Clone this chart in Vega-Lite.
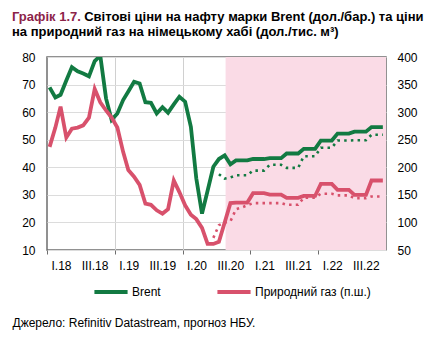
{
  "$schema": "https://vega.github.io/schema/vega-lite/v6.json",
  "width": 339,
  "height": 193,
  "autosize": {"type": "none"},
  "padding": {"left": 47, "top": 57, "right": 53, "bottom": 95},
  "background": "white",
  "config": {
    "font": "Liberation Sans",
    "view": {"stroke": "#6e6e6e", "strokeWidth": 1.5},
    "axis": {"labelFont": "Liberation Sans", "labelFontSize": 12, "labelColor": "#000", "titleFont": "Liberation Sans", "labelOverlap": false, "labelBound": false, "tickCount": 30},
    "legend": {"labelFont": "Liberation Sans"}
  },
  "title": {
    "text": "Графік 1.7.",
    "subtitle": ["\u200b\u00a0\u00a0\u00a0\u00a0\u00a0\u00a0\u00a0\u00a0\u00a0\u00a0\u00a0\u00a0\u00a0\u00a0\u00a0\u00a0\u00a0\u00a0\u00a0\u00a0Світові ціни на нафту марки Brent (дол./бар.) та ціни", "на природний газ на німецькому хабі (дол./тис. м³)"],
    "anchor": "start",
    "frame": "group",
    "dx": -35,
    "offset": 12,
    "font": "Liberation Sans",
    "fontSize": 13,
    "fontWeight": "bold",
    "color": "#8C2349",
    "subtitleFont": "Liberation Sans",
    "subtitleFontSize": 13,
    "subtitleFontWeight": "bold",
    "subtitleColor": "#000",
    "subtitlePadding": -13,
    "subtitleLineHeight": 15.5
  },
  "data": {
    "values": [
      {"d": "2018-01-15", "brent": 69.0, "brent_f": null, "gas": 237, "gas_f": null},
      {"d": "2018-02-15", "brent": 65.3, "brent_f": null, "gas": 272, "gas_f": null},
      {"d": "2018-03-15", "brent": 66.3, "brent_f": null, "gas": 310, "gas_f": null},
      {"d": "2018-04-15", "brent": 71.5, "brent_f": null, "gas": 254, "gas_f": null},
      {"d": "2018-05-15", "brent": 76.3, "brent_f": null, "gas": 270, "gas_f": null},
      {"d": "2018-06-15", "brent": 74.8, "brent_f": null, "gas": 272, "gas_f": null},
      {"d": "2018-07-15", "brent": 74.0, "brent_f": null, "gas": 276, "gas_f": null},
      {"d": "2018-08-15", "brent": 73.0, "brent_f": null, "gas": 290, "gas_f": null},
      {"d": "2018-09-15", "brent": 78.5, "brent_f": null, "gas": 342, "gas_f": null},
      {"d": "2018-10-15", "brent": 80.5, "brent_f": null, "gas": 318, "gas_f": null},
      {"d": "2018-11-15", "brent": 65.0, "brent_f": null, "gas": 303, "gas_f": null},
      {"d": "2018-12-15", "brent": 57.2, "brent_f": null, "gas": 290, "gas_f": null},
      {"d": "2019-01-15", "brent": 59.5, "brent_f": null, "gas": 272, "gas_f": null},
      {"d": "2019-02-15", "brent": 64.4, "brent_f": null, "gas": 228, "gas_f": null},
      {"d": "2019-03-15", "brent": 67.5, "brent_f": null, "gas": 195, "gas_f": null},
      {"d": "2019-04-15", "brent": 71.0, "brent_f": null, "gas": 183, "gas_f": null},
      {"d": "2019-05-15", "brent": 70.4, "brent_f": null, "gas": 168, "gas_f": null},
      {"d": "2019-06-15", "brent": 63.6, "brent_f": null, "gas": 134, "gas_f": null},
      {"d": "2019-07-15", "brent": 63.4, "brent_f": null, "gas": 132, "gas_f": null},
      {"d": "2019-08-15", "brent": 59.5, "brent_f": null, "gas": 122, "gas_f": null},
      {"d": "2019-09-15", "brent": 61.8, "brent_f": null, "gas": 116, "gas_f": null},
      {"d": "2019-10-15", "brent": 59.8, "brent_f": null, "gas": 124, "gas_f": null},
      {"d": "2019-11-15", "brent": 62.8, "brent_f": null, "gas": 176, "gas_f": null},
      {"d": "2019-12-15", "brent": 65.6, "brent_f": null, "gas": 155, "gas_f": null},
      {"d": "2020-01-15", "brent": 63.8, "brent_f": null, "gas": 131, "gas_f": null},
      {"d": "2020-02-15", "brent": 54.7, "brent_f": null, "gas": 114, "gas_f": null},
      {"d": "2020-03-15", "brent": 36.0, "brent_f": null, "gas": 106, "gas_f": null},
      {"d": "2020-04-15", "brent": 23.2, "brent_f": null, "gas": 90, "gas_f": null},
      {"d": "2020-05-15", "brent": 31.5, "brent_f": null, "gas": 61, "gas_f": null},
      {"d": "2020-06-15", "brent": 40.2, "brent_f": null, "gas": 61, "gas_f": 72},
      {"d": "2020-07-15", "brent": 43.0, "brent_f": 37.5, "gas": 65, "gas_f": 95},
      {"d": "2020-08-15", "brent": 44.3, "brent_f": 35.9, "gas": 100, "gas_f": 100},
      {"d": "2020-09-15", "brent": 41.1, "brent_f": 36.3, "gas": 135, "gas_f": 102},
      {"d": "2020-10-15", "brent": 42.5, "brent_f": 37.1, "gas": 136, "gas_f": 124},
      {"d": "2020-11-15", "brent": 42.5, "brent_f": 37.1, "gas": 136, "gas_f": 127},
      {"d": "2020-12-15", "brent": 42.5, "brent_f": 37.1, "gas": 136, "gas_f": 131},
      {"d": "2021-01-15", "brent": 43.0, "brent_f": 38.8, "gas": 153, "gas_f": 135},
      {"d": "2021-02-15", "brent": 43.0, "brent_f": 38.8, "gas": 153, "gas_f": 135},
      {"d": "2021-03-15", "brent": 43.0, "brent_f": 38.8, "gas": 153, "gas_f": 135},
      {"d": "2021-04-15", "brent": 43.3, "brent_f": 40.9, "gas": 150.5, "gas_f": 135},
      {"d": "2021-05-15", "brent": 43.3, "brent_f": 40.9, "gas": 150.5, "gas_f": 135},
      {"d": "2021-06-15", "brent": 43.3, "brent_f": 40.9, "gas": 150.5, "gas_f": 135},
      {"d": "2021-07-15", "brent": 45.0, "brent_f": 39.8, "gas": 144.5, "gas_f": 132},
      {"d": "2021-08-15", "brent": 45.0, "brent_f": 39.8, "gas": 144.5, "gas_f": 132},
      {"d": "2021-09-15", "brent": 45.0, "brent_f": 39.8, "gas": 144.5, "gas_f": 132},
      {"d": "2021-10-15", "brent": 46.7, "brent_f": 44.0, "gas": 148, "gas_f": 145},
      {"d": "2021-11-15", "brent": 46.7, "brent_f": 44.0, "gas": 148, "gas_f": 145},
      {"d": "2021-12-15", "brent": 46.7, "brent_f": 44.0, "gas": 148, "gas_f": 145},
      {"d": "2022-01-15", "brent": 49.7, "brent_f": 47.1, "gas": 170, "gas_f": 152},
      {"d": "2022-02-15", "brent": 49.7, "brent_f": 47.1, "gas": 170, "gas_f": 152},
      {"d": "2022-03-15", "brent": 49.7, "brent_f": 47.1, "gas": 170, "gas_f": 152},
      {"d": "2022-04-15", "brent": 52.2, "brent_f": 49.7, "gas": 159, "gas_f": 149},
      {"d": "2022-05-15", "brent": 52.2, "brent_f": 49.7, "gas": 159, "gas_f": 149},
      {"d": "2022-06-15", "brent": 52.2, "brent_f": 49.7, "gas": 159, "gas_f": 149},
      {"d": "2022-07-15", "brent": 52.9, "brent_f": 49.8, "gas": 150, "gas_f": 144},
      {"d": "2022-08-15", "brent": 52.9, "brent_f": 49.8, "gas": 150, "gas_f": 144},
      {"d": "2022-09-15", "brent": 52.9, "brent_f": 49.8, "gas": 150, "gas_f": 144},
      {"d": "2022-10-15", "brent": 54.6, "brent_f": 51.8, "gas": 176, "gas_f": 147},
      {"d": "2022-11-15", "brent": 54.6, "brent_f": 51.8, "gas": 176, "gas_f": 147},
      {"d": "2022-12-15", "brent": 54.6, "brent_f": 51.8, "gas": 176, "gas_f": 147}
    ]
  },
  "layer": [
    {
      "data": {"values": [{"start": "2020-08-20", "end": "2023-01-01"}]},
      "mark": {"type": "rect", "color": "#FADBE6"},
      "encoding": {
        "x": {
          "field": "start",
          "type": "temporal",
          "scale": {"type": "utc", "domain": [{"year": 2018, "month": 1, "date": 1, "utc": true}, {"year": 2023, "month": 1, "date": 1, "utc": true}]},
          "axis": {
            "values": [
              {"year": 2018, "month": 1, "date": 1, "utc": true}, {"year": 2018, "month": 7, "date": 1, "utc": true},
              {"year": 2019, "month": 1, "date": 1, "utc": true}, {"year": 2019, "month": 7, "date": 1, "utc": true},
              {"year": 2020, "month": 1, "date": 1, "utc": true}, {"year": 2020, "month": 7, "date": 1, "utc": true},
              {"year": 2021, "month": 1, "date": 1, "utc": true}, {"year": 2021, "month": 7, "date": 1, "utc": true},
              {"year": 2022, "month": 1, "date": 1, "utc": true}, {"year": 2022, "month": 7, "date": 1, "utc": true}
            ],
            "tickCount": 30,
            "labelExpr": "(utcmonth(datum.value) == 0 ? 'I.' : 'III.') + (utcyear(datum.value) % 100)",
            "labelOffset": 14,
            "labelPadding": 6,
            "labelFlush": false,
            "labelOverlap": false,
            "domain": false,
            "tickSize": 4,
            "tickColor": {"condition": {"test": "utcmonth(datum.value) == 0", "value": "#6e6e6e"}, "value": "transparent"},
            "grid": true,
            "gridColor": {"condition": {"test": "utcmonth(datum.value) == 0 && utcyear(datum.value) > 2018", "value": "#d0d0d0"}, "value": "transparent"},
            "title": "Джерело: Refinitiv Datastream, прогноз НБУ.",
            "titleFontSize": 12,
            "titleFontWeight": "normal",
            "titleColor": "#000",
            "titleAlign": "left",
            "titleAnchor": "start",
            "titleBaseline": "middle",
            "titleX": -35,
            "titleY": 72
          }
        },
        "x2": {"field": "end"}
      }
    },
    {
      "layer": [
        {
          "mark": {"type": "line", "color": "#127A42", "strokeWidth": 3.8, "clip": true},
          "encoding": {
            "x": {"field": "d", "type": "temporal"},
            "y": {
              "field": "brent",
              "type": "quantitative",
              "scale": {"domain": [10, 80], "nice": false, "zero": false},
              "axis": {"values": [10, 20, 30, 40, 50, 60, 70, 80], "tickCount": 30, "labelOverlap": false, "ticks": false, "domain": false, "grid": true, "gridColor": "#dcdcdc", "labelPadding": 12, "title": null}
            },
            "color": {
              "datum": "Brent",
              "type": "nominal",
              "scale": {"domain": ["Brent", "Природний газ (п.ш.)"], "range": ["#127A42", "#D8516C"]},
              "legend": {
                "orient": "none",
                "legendX": 45,
                "legendY": 216,
                "direction": "horizontal",
                "title": null,
                "symbolType": "stroke",
                "symbolSize": 1100,
                "symbolStrokeWidth": 4,
                "labelFontSize": 12,
                "labelColor": "#000",
                "labelOffset": 2,
                "columnPadding": 48
              }
            }
          }
        },
        {
          "mark": {"type": "line", "color": "#127A42", "strokeWidth": 2.6, "strokeDash": [2.5, 4.2], "clip": true},
          "encoding": {
            "x": {"field": "d", "type": "temporal"},
            "y": {"field": "brent_f", "type": "quantitative"}
          }
        }
      ]
    },
    {
      "layer": [
        {
          "mark": {"type": "line", "color": "#D8516C", "strokeWidth": 3.8, "clip": true},
          "encoding": {
            "x": {"field": "d", "type": "temporal"},
            "y": {
              "field": "gas",
              "type": "quantitative",
              "scale": {"domain": [50, 400], "nice": false, "zero": false},
              "axis": {"orient": "right", "values": [50, 100, 150, 200, 250, 300, 350, 400], "tickCount": 30, "labelOverlap": false, "ticks": false, "domain": false, "grid": false, "labelPadding": 11, "title": null}
            },
            "color": {"datum": "Природний газ (п.ш.)", "type": "nominal"}
          }
        },
        {
          "mark": {"type": "line", "color": "#D8516C", "strokeWidth": 2.6, "strokeDash": [2.5, 4.2], "clip": true},
          "encoding": {
            "x": {"field": "d", "type": "temporal"},
            "y": {"field": "gas_f", "type": "quantitative"}
          }
        }
      ]
    }
  ],
  "resolve": {"scale": {"y": "independent"}}
}
